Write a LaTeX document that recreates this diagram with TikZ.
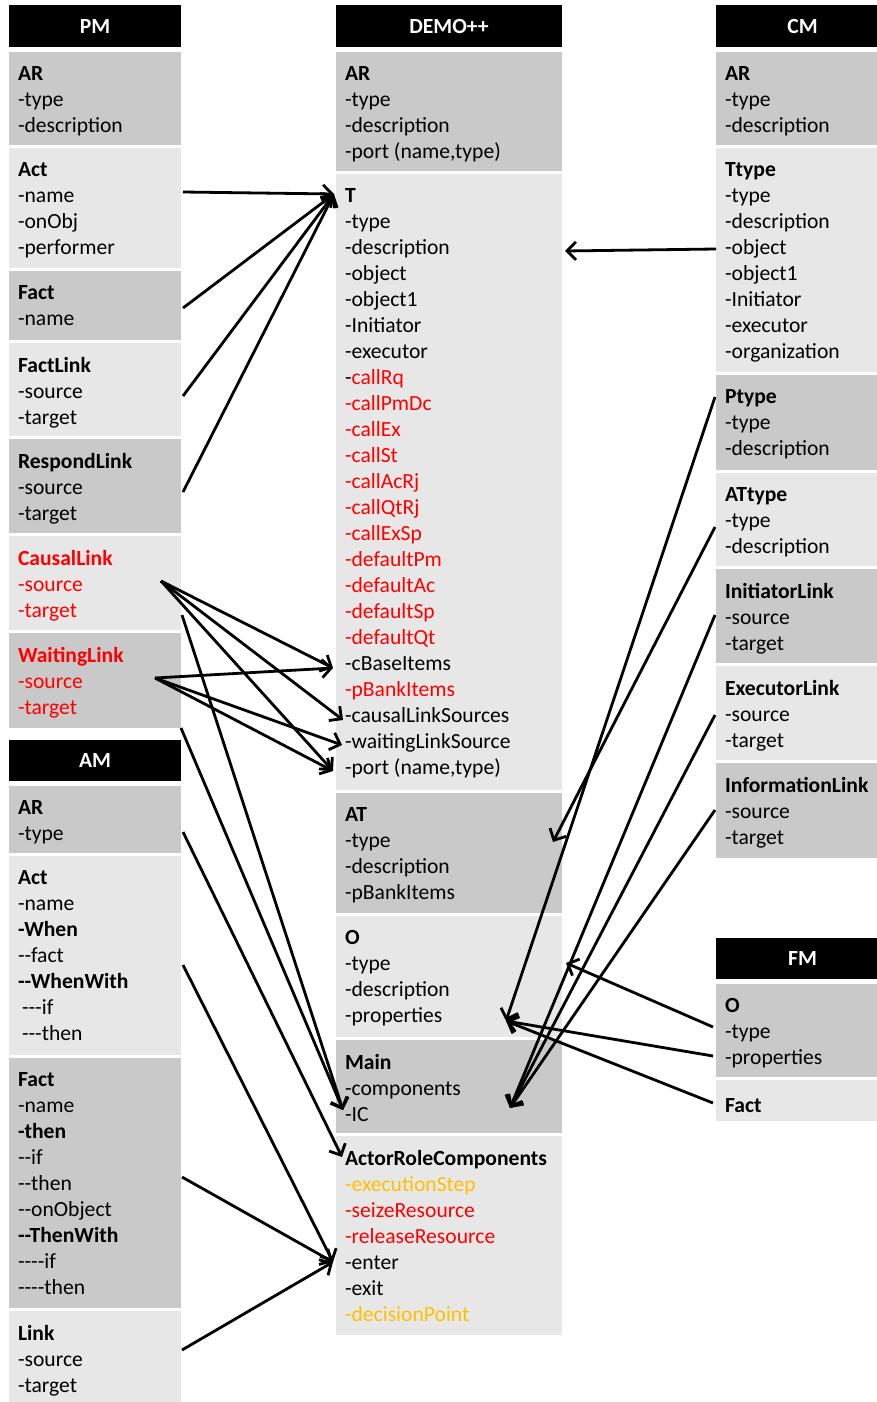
\documentclass[tikz,border=0pt]{standalone}
\usepackage{fontspec}
\newfontfamily\carl{Carlito}
\usetikzlibrary{arrows.meta}
\definecolor{dkg}{HTML}{C9C9C9}
\definecolor{ltg}{HTML}{E7E7E7}
\definecolor{redc}{HTML}{FF0000}
\definecolor{orgc}{HTML}{FFC000}
\newcommand\redt[1]{\textcolor{redc}{#1}}
\newcommand\orgt[1]{\textcolor{orgc}{#1}}
\tikzset{
  boxs/.style={draw=none, inner sep=0pt, outer sep=0pt, anchor=north west},
  hdr/.style={fill=black, text=white, inner sep=0pt, outer sep=0pt, anchor=north west,
              font=\carl\fontsize{21.6}{26}\selectfont\bfseries},
  txt/.style={anchor=north west, align=left, inner sep=0pt, outer sep=0pt,
              font=\carl\fontsize{21.6}{26}\selectfont, execute at begin node=\strut},
  arr/.style={line width=2.8pt, -{Straight Barb[length=9pt,width=18pt]}},
}
\newcommand\mkbox[7]{%
  \node[boxs, fill=#2, minimum width=#5, minimum height={#6-#4}] (#1) at (#3,#4) {};
  \node[txt] (#1t) at ([xshift=9pt,yshift=-14pt]#1.north west) {#7};
}
\newcommand\mkhdr[6]{%
  \node[hdr, minimum width=#4, minimum height={#5-#3}] (#1) at (#2,#3) {#6};
}
\begin{document}
\begin{tikzpicture}[x=1pt,y=-1pt]
\useasboundingbox (0,0) rectangle (877,1402);
\fill[white] (0,0) rectangle (877,1402);

% ---------------- left column: PM ----------------
\mkhdr{hPM}{9}{5}{172}{47}{PM}
\mkbox{pmAR}{dkg}{9}{52}{172}{145}{\textbf{AR}\\-type\\-description}
\mkbox{pmAct}{ltg}{9}{148}{172}{268}{\textbf{Act}\\-name\\-onObj\\-performer}
\mkbox{pmFact}{dkg}{9}{271}{172}{340}{\textbf{Fact}\\-name}
\mkbox{pmFL}{ltg}{9}{343}{172}{436}{\textbf{FactLink}\\-source\\-target}
\mkbox{pmRL}{dkg}{9}{439}{172}{533}{\textbf{RespondLink}\\-source\\-target}
\mkbox{pmCL}{ltg}{9}{536}{172}{630}{\color{redc}\textbf{CausalLink}\\\color{redc}-source\\\color{redc}-target}
\mkbox{pmWL}{dkg}{9}{633}{172}{728}{\color{redc}\textbf{WaitingLink}\\\color{redc}-source\\\color{redc}-target}

% ---------------- left column: AM ----------------
\mkhdr{hAM}{9}{740}{172}{781}{AM}
\mkbox{amAR}{dkg}{9}{786}{172}{853}{\textbf{AR}\\-type}
\mkbox{amAct}{ltg}{9}{856}{172}{1055}{\textbf{Act}\\-name\\\textbf{-When}\\--fact\\\textbf{--WhenWith}\\\hspace{4pt}---if\\\hspace{4pt}---then}
\mkbox{amFact}{dkg}{9}{1058}{172}{1308}{\textbf{Fact}\\-name\\\textbf{-then}\\--if\\--then\\--onObject\\\textbf{--ThenWith}\\----if\\----then}
\mkbox{amLink}{ltg}{9}{1311}{172}{1402}{\textbf{Link}\\-source\\-target}

% ---------------- middle column: DEMO++ ----------------
\mkhdr{hDM}{336}{5}{226}{47}{DEMO++}
\mkbox{dAR}{dkg}{336}{52}{226}{171}{\textbf{AR}\\-type\\-description\\-port (name,type)}
\mkbox{dT}{ltg}{336}{174}{226}{790}{\textbf{T}\\-type\\-description\\-object\\-object1\\-Initiator\\-executor\\{\color{black}-}\redt{callRq}\\\redt{-callPmDc}\\\redt{-callEx}\\\redt{-callSt}\\\redt{-callAcRj}\\\redt{-callQtRj}\\\redt{-callExSp}\\\redt{-defaultPm}\\\redt{-defaultAc}\\\redt{-defaultSp}\\\redt{-defaultQt}\\-cBaseItems\\\redt{-pBankItems}\\-causalLinkSources\\-waitingLinkSource\\-port (name,type)}
\mkbox{dAT}{dkg}{336}{793}{226}{913}{\textbf{AT}\\-type\\-description\\-pBankItems}
\mkbox{dO}{ltg}{336}{916}{226}{1037}{\textbf{O}\\-type\\-description\\-properties}
\mkbox{dMain}{dkg}{336}{1040}{226}{1133}{\textbf{Main}\\-components\\-IC}
\mkbox{dARC}{ltg}{336}{1136}{226}{1335}{\textbf{ActorRoleComponents}\\\orgt{-executionStep}\\\redt{-seizeResource}\\\redt{-releaseResource}\\-enter\\-exit\\\orgt{-decisionPoint}}

% ---------------- right column: CM ----------------
\mkhdr{hCM}{716}{5}{161}{47}{\hspace*{12pt}CM}
\mkbox{cAR}{dkg}{716}{52}{161}{145}{\textbf{AR}\\-type\\-description}
\mkbox{cTt}{ltg}{716}{148}{161}{372}{\textbf{Ttype}\\-type\\-description\\-object\\-object1\\-Initiator\\-executor\\-organization}
\mkbox{cPt}{dkg}{716}{375}{161}{470}{\textbf{Ptype}\\-type\\-description}
\mkbox{cATt}{ltg}{716}{473}{161}{566}{\textbf{ATtype}\\-type\\-description}
\mkbox{cIL}{dkg}{716}{569}{161}{663}{\textbf{InitiatorLink}\\-source\\-target}
\mkbox{cEL}{ltg}{716}{666}{161}{760}{\textbf{ExecutorLink}\\-source\\-target}
\mkbox{cInf}{dkg}{716}{763}{161}{858}{\textbf{InformationLink}\\-source\\-target}

% ---------------- right column: FM ----------------
\mkhdr{hFM}{716}{938}{161}{979}{\hspace*{12pt}FM}
\mkbox{fO}{dkg}{716}{984}{161}{1077}{\textbf{O}\\-type\\-properties}
\mkbox{fFact}{ltg}{716}{1080}{161}{1121}{\textbf{Fact}}

% ---------------- connector end points ----------------
\coordinate (sAct) at (183,192);
\coordinate (sFact) at (183,308);
\coordinate (sFL) at (183,396);
\coordinate (sRL) at (183,492);
\coordinate (sCL) at (161,581);
\coordinate (sWL) at (155,678);
\coordinate (sCL2) at (182,615);
\coordinate (sWL2) at (181,728);
\coordinate (sAmAR) at (183,832);
\coordinate (sAmAct) at (183,965);
\coordinate (sAmFact) at (182,1177);
\coordinate (sAmLink) at (182,1350);

\coordinate (tT) at (334,194);
\coordinate (tCB) at (333,668);
\coordinate (tCLS) at (343,720);
\coordinate (tWLS) at (342,745);
\coordinate (tPort) at (333,771);
\coordinate (tIC) at (343,1110);
\coordinate (tARC) at (342,1157);
\coordinate (tEnter) at (333,1262);

\coordinate (sTt) at (716,249);
\coordinate (sPt) at (715,397);
\coordinate (sATt) at (715,527);
\coordinate (sIL) at (715,615);
\coordinate (sEL) at (715,715);
\coordinate (sInf) at (715,810);
\coordinate (sFO1) at (713,1027);
\coordinate (sFO2) at (713,1056);
\coordinate (sFF) at (713,1103);

\coordinate (tTr) at (565,251);
\coordinate (tAT) at (553,842);
\coordinate (tOt) at (566,963);
\coordinate (tOp) at (506,1021);
\coordinate (tMain) at (510,1108);

% ---------------- connectors ----------------
\draw[arr] (sAct) -- (tT);
\draw[arr] (sFact) -- (tT);
\draw[arr] (sFL) -- (tT);
\draw[arr] (sRL) -- (tT);

\draw[arr] (sCL) -- (tCB);
\draw[arr] (sCL) -- (tCLS);
\draw[arr] (sCL) -- (tPort);
\draw[arr] (sWL) -- (tCB);
\draw[arr] (sWL) -- (tWLS);
\draw[arr] (sWL) -- (tPort);

\draw[arr] (sCL2) -- (tIC);
\draw[arr] (sWL2) -- (tIC);
\draw[arr] (sAmAR) -- (tARC);
\draw[arr] (sAmAct) -- (tEnter);
\draw[arr] (sAmFact) -- (tEnter);
\draw[arr] (sAmLink) -- (tEnter);

\draw[arr] (sTt) -- (tTr);
\draw[arr] (sPt) -- (tOp);
\draw[arr] (sATt) -- (tAT);
\draw[arr] (sIL) -- (tMain);
\draw[arr] (sEL) -- (tMain);
\draw[arr] (sInf) -- (tMain);
\draw[arr] (sFO1) -- (tOt);
\draw[arr] (sFO2) -- (tOp);
\draw[arr] (sFF) -- (tOp);
\end{tikzpicture}
\end{document}
